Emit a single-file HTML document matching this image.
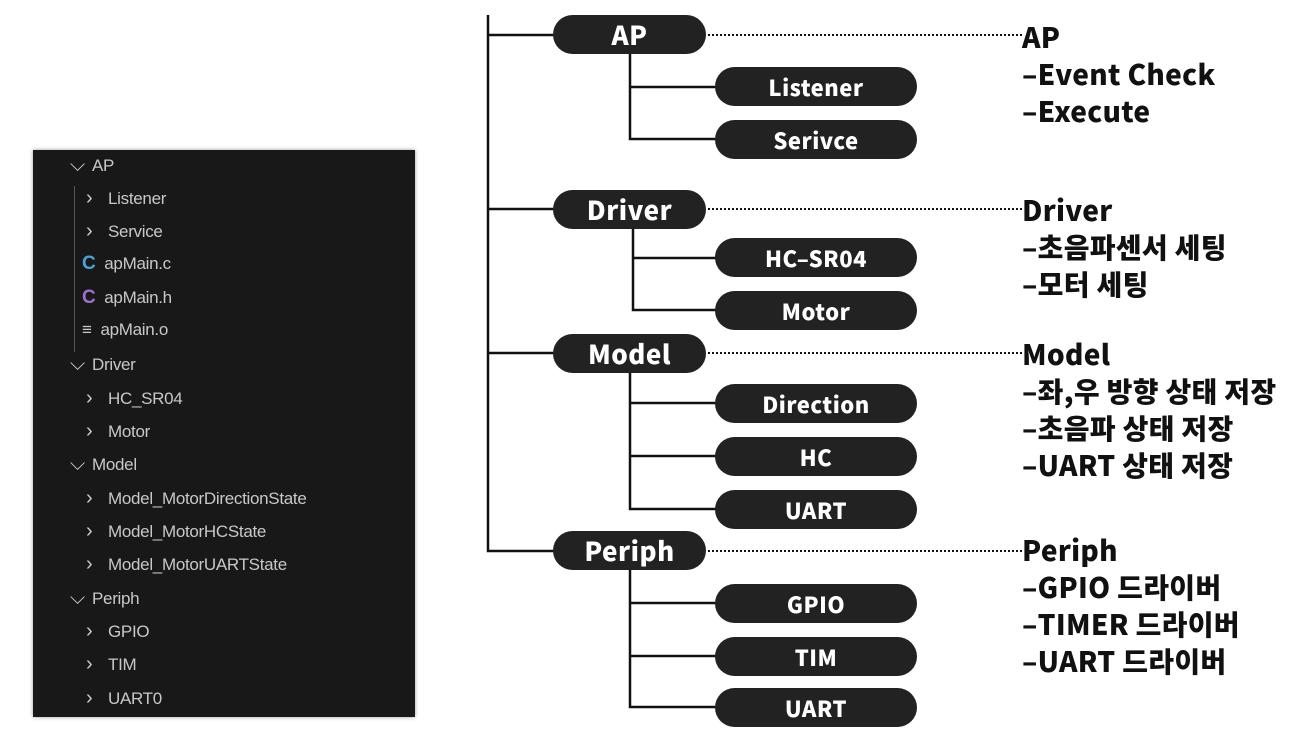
<!DOCTYPE html>
<html><head><meta charset="utf-8"><style>
body{margin:0;width:1311px;height:744px;background:#fff;position:relative;overflow:hidden;font-family:"Liberation Sans","Noto Sans CJK KR",sans-serif}
.side{position:absolute;left:33px;top:150px;width:382px;height:567px;background:#181818;box-shadow:0 0 4px #999}
.it{position:absolute;color:#c8c8c8;font-size:17px;white-space:nowrap;font-family:"Liberation Sans","DejaVu Sans",sans-serif;letter-spacing:-0.3px}
.ch{display:inline-block;width:22px;font-size:20px;color:#ccc}
.p{position:absolute;background:#222;color:#fff;border-radius:20px;display:flex;align-items:center;justify-content:center;font-weight:900;font-family:"Noto Sans CJK KR","Liberation Sans",sans-serif}
.big{left:553px;width:153px;height:39px;font-size:26px;letter-spacing:0.5px}
.sm{left:715px;width:202px;height:39px;font-size:22px;letter-spacing:0.5px}
.t{position:absolute;left:1022px;font-size:28px;font-weight:900;line-height:37px;color:#111;font-family:"Noto Sans CJK KR","Liberation Sans",sans-serif;white-space:nowrap;letter-spacing:0.3px}
</style></head><body>
<div class="side">
<div class="it" style="left:37px;top:4px"><span class="ch">⌵</span>AP</div>
<div style="position:absolute;left:41px;top:36px;width:1px;height:166px;background:#555"></div>
<div class="it" style="left:53px;top:37px"><span class="ch">›</span>Listener</div>
<div class="it" style="left:53px;top:70px"><span class="ch">›</span>Service</div>
<div class="it" style="left:49px;top:103px"><b style="color:#4aa3d8;font-size:19px">C</b>&nbsp; apMain.c</div>
<div class="it" style="left:49px;top:137px"><b style="color:#a070d0;font-size:19px">C</b>&nbsp; apMain.h</div>
<div class="it" style="left:49px;top:170px">≡&nbsp; apMain.o</div>
<div class="it" style="left:37px;top:203px"><span class="ch">⌵</span>Driver</div>
<div class="it" style="left:53px;top:237px"><span class="ch">›</span>HC_SR04</div>
<div class="it" style="left:53px;top:270px"><span class="ch">›</span>Motor</div>
<div class="it" style="left:37px;top:303px"><span class="ch">⌵</span>Model</div>
<div class="it" style="left:53px;top:337px"><span class="ch">›</span>Model_MotorDirectionState</div>
<div class="it" style="left:53px;top:370px"><span class="ch">›</span>Model_MotorHCState</div>
<div class="it" style="left:53px;top:403px"><span class="ch">›</span>Model_MotorUARTState</div>
<div class="it" style="left:37px;top:437px"><span class="ch">⌵</span>Periph</div>
<div class="it" style="left:53px;top:470px"><span class="ch">›</span>GPIO</div>
<div class="it" style="left:53px;top:503px"><span class="ch">›</span>TIM</div>
<div class="it" style="left:53px;top:537px"><span class="ch">›</span>UART0</div>
</div>
<svg width="1311" height="744" style="position:absolute;left:0;top:0">
<g stroke="#111" stroke-width="2.5" fill="none">
<path d="M488 15V551H555M488 35H555M488 209H555M488 353H555"/>
<path d="M630 54V139H716M630 87H716"/>
<path d="M633 229V310H716M633 258H716"/>
<path d="M630 372V509H716M630 403H716M630 456H716"/>
<path d="M630 570V707H716M630 603H716M630 656H716"/>
</g>
<g stroke="#111" stroke-width="2" stroke-dasharray="2 2">
<path d="M708 35H1022M708 209H1022M708 353H1022M708 551H1022"/>
</g>
</svg>
<div class="p big" style="top:15px">AP</div>
<div class="p sm" style="top:67px">Listener</div>
<div class="p sm" style="top:120px">Serivce</div>
<div class="p big" style="top:190px">Driver</div>
<div class="p sm" style="top:238px">HC–SR04</div>
<div class="p sm" style="top:291px">Motor</div>
<div class="p big" style="top:334px">Model</div>
<div class="p sm" style="top:384px">Direction</div>
<div class="p sm" style="top:437px">HC</div>
<div class="p sm" style="top:490px">UART</div>
<div class="p big" style="top:531px">Periph</div>
<div class="p sm" style="top:584px">GPIO</div>
<div class="p sm" style="top:637px">TIM</div>
<div class="p sm" style="top:688px">UART</div>
<div class="t" style="top:19px">AP<br>–Event Check<br>–Execute</div>
<div class="t" style="top:192px">Driver<br>–초음파센서 세팅<br>–모터 세팅</div>
<div class="t" style="top:336px">Model<br>–좌,우 방향 상태 저장<br>–초음파 상태 저장<br>–UART 상태 저장</div>
<div class="t" style="top:532px">Periph<br>–GPIO 드라이버<br>–TIMER 드라이버<br>–UART 드라이버</div>
</body></html>
